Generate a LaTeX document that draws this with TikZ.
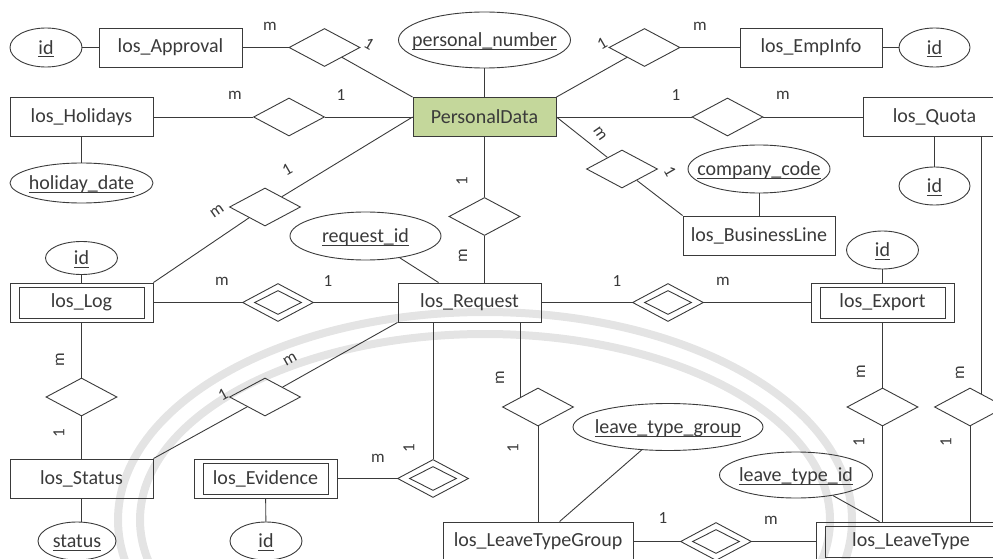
\documentclass[tikz,border=0pt]{standalone}
\usepackage{fontspec}
\setmainfont{Carlito}
\usetikzlibrary{shapes.geometric,calc}
\definecolor{ink}{HTML}{3A3A3A}
\definecolor{pdgreen}{HTML}{C4D79B}
\definecolor{wmgray}{HTML}{E4E4E4}
% key attribute: underline drawn just below the baseline
\newcommand\ulx[1]{\setbox0\hbox{#1}\rlap{\rule[-2.6pt]{\wd0}{0.7pt}}\box0}
% attribute text in a zero-size box so the ellipse keeps its given size
\newcommand\attrtext[1]{\makebox[0pt]{\raisebox{-0.34em}[0pt][0pt]{\ulx{#1}}}}
\begin{document}
\begin{tikzpicture}[x=1pt,y=-1pt,
  every node/.style={text=ink},
  ent/.style={draw=ink, line width=0.9pt, rectangle, minimum width=143pt,
    minimum height=39pt, inner sep=0pt, font=\fontsize{20}{22}\selectfont},
  wk/.style={ent, path picture={\draw[ink, line width=0.9pt]
    ([xshift=9pt,yshift=-4pt]path picture bounding box.north west) rectangle
    ([xshift=-9pt,yshift=4pt]path picture bounding box.south east);}},
  attr/.style={draw=ink, line width=0.9pt, ellipse, inner sep=0pt,
    minimum width=72pt, minimum height=39pt, font=\fontsize{20}{22}\selectfont},
  rel/.style={draw=ink, line width=0.9pt, diamond, minimum width=71pt,
    minimum height=38pt, inner sep=0pt},
  ddia/.style={rel, path picture={\draw[ink, line width=0.9pt]
    ([yshift=-7pt]path picture bounding box.north) --
    ([xshift=-12pt]path picture bounding box.east) --
    ([yshift=7pt]path picture bounding box.south) --
    ([xshift=12pt]path picture bounding box.west) -- cycle;}},
  link/.style={draw=ink, line width=0.9pt},
  card/.style={font=\fontsize{17}{19}\selectfont, inner sep=0pt},
  wm/.style={draw=wmgray, line width=8pt}
]
\useasboundingbox (0,0) rectangle (993,559);

% faint background arcs
\begin{scope}
  \clip (0,0) rectangle (993,559);
  \draw[wm] (485,520) ellipse [x radius=367pt, y radius=208pt];
  \draw[wm] (485,520) ellipse [x radius=345pt, y radius=186pt];
\end{scope}

% entities
\node[ent] (appr) at (170.5,47.5) {los\_Approval};
\node[ent, fill=pdgreen] (pd) at (484.5,117) {PersonalData};
\node[ent] (hol) at (81.5,117) {los\_Holidays};
\node[ent, minimum width=142pt] (emp) at (811,47.5) {los\_EmpInfo};
\node[ent] (quota) at (934.5,117) {los\_Quota};
\node[ent, minimum width=152pt] (bl) at (759,235.5) {los\_BusinessLine};
\node[ent] (req) at (469.5,302.5) {los\_Request};
\node[wk] (log) at (81.5,302.5) {los\_Log};
\node[wk] (exp) at (882.5,302.5) {los\_Export};
\node[ent] (stat) at (81.5,478.5) {los\_Status};
\node[wk] (evd) at (265.5,478.5) {los\_Evidence};
\node[ent, minimum width=190pt] (ltg) at (538,541.5) {los\_LeaveTypeGroup};
\node[wk, minimum width=190pt] (lt) at (911,541.5) {los\_LeaveType};

% attributes
\node[attr] (aid) at (46,47.5) {\attrtext{id}};
\node[attr, minimum width=172pt, minimum height=56pt] (apn) at (484.5,40) {\attrtext{personal\_number}};
\node[attr, minimum width=71pt] (aeid) at (934.5,47.5) {\attrtext{id}};
\node[attr, minimum width=143pt, minimum height=40pt] (ahd) at (81.5,183) {\attrtext{holiday\_date}};
\node[attr, minimum width=142pt, minimum height=48pt] (acc) at (759,169) {\attrtext{company\_code}};
\node[attr, minimum width=71pt, minimum height=38pt] (aqid) at (934.5,186) {\attrtext{id}};
\node[attr, minimum height=33pt] (alid) at (81.5,258) {\attrtext{id}};
\node[attr, minimum width=151pt, minimum height=48pt] (arid) at (365.5,236) {\attrtext{request\_id}};
\node[attr, minimum height=38pt] (axid) at (882.5,250) {\attrtext{id}};
\node[attr, minimum width=78pt, minimum height=38pt] (astat) at (77,541) {\attrtext{status}};
\node[attr, minimum height=38pt] (avid) at (266,541) {\attrtext{id}};
\node[attr, minimum width=190pt, minimum height=47pt] (altg) at (668,427) {\attrtext{leave\_type\_group}};
\node[attr, minimum width=153pt, minimum height=46pt] (altid) at (796,475) {\attrtext{leave\_type\_id}};

% relationships
\node[rel] (r1) at (324.5,47.5) {};
\node[rel] (r2) at (289,117) {};
\node[rel] (r3) at (644.5,47.5) {};
\node[rel] (r4) at (727.5,117) {};
\node[rel] (r5) at (622,169) {};
\node[rel] (r6) at (265,207) {};
\node[rel] (r7) at (484.5,216.5) {};
\node[ddia] (r8) at (278,302.5) {};
\node[ddia] (r9) at (668,302.5) {};
\node[rel] (r10) at (81.5,397) {};
\node[rel] (r11) at (265,397) {};
\node[ddia] (r12) at (433,478.5) {};
\node[rel] (r13) at (538,407) {};
\node[rel] (r14) at (882.5,407) {};
\node[rel] (r15) at (970,407) {};
\node[ddia] (r16) at (716,541.5) {};

% attribute links
\draw[link] (aid) -- (appr);
\draw[link] (apn) -- (pd);
\draw[link] (emp) -- (aeid);
\draw[link] (hol) -- (ahd);
\draw[link] (acc) -- (bl);
\draw[link] (quota) -- (aqid);
\draw[link] (alid) -- (log);
\draw[link] (arid) -- ($(req.north west)+(41,0)$);
\draw[link] (axid) -- (exp);
\draw[link] (stat.south) -- (stat.south |- astat.north);
\draw[link] (evd) -- (avid);
\draw[link] (altg) -- ($(ltg.north west)+(117,0)$);
\draw[link] (altid) -- ($(lt.north west)+(64,0)$);

% relationship links
\draw[link] (appr) -- (r1);
\draw[link] (r1) -- (pd.north west);
\draw[link] (pd.north east) -- (r3);
\draw[link] (r3) -- (emp);
\draw[link] (hol) -- (r2);
\draw[link] (r2) -- (pd);
\draw[link] (pd) -- (r4);
\draw[link] (r4) -- (quota);
\draw[link] (pd.east) -- (r5);
\draw[link] (r5) -- (bl.north west);
\draw[link] (pd.west) -- (r6);
\draw[link] (r6) -- (log.north east);
\draw[link] (r7) -- (r7 |- pd.south);
\draw[link] (r7) -- (r7 |- req.north);
\draw[link] (log) -- (r8);
\draw[link] (r8) -- (req);
\draw[link] (req) -- (r9);
\draw[link] (r9) -- (exp);
\draw[link] (log) -- (r10);
\draw[link] (r10) -- (stat);
\draw[link] (stat.north east) -- (r11);
\draw[link] (r11) -- (req.south west);
\draw[link] (evd) -- (r12);
\draw[link] (r12) -- (r12 |- req.south);
\draw[link] (r13.north west) -- (r13.north west |- req.south);
\draw[link] (r13) -- (r13 |- ltg.north);
\draw[link] (r14) -- (r14 |- exp.south);
\draw[link] (r14) -- (r14 |- lt.north);
\coordinate (q15) at ($(r15.north)!0.31!(r15.east)$);
\draw[link] (q15) -- (q15 |- quota.south);
\draw[link] (r15) -- (r15 |- lt.north);
\draw[link] (ltg) -- (r16);
\draw[link] (r16) -- (lt);

% cardinalities
\node[card] (c1) at (270,26) {m};
\node[card, rotate=-30] (c2) at (369,44) {1};
\node[card] (c3) at (235,95) {m};
\node[card] (c4) at (341,95) {1};
\node[card, rotate=30] (c5) at (602,44) {1};
\node[card] (c6) at (700,26) {m};
\node[card] (c7) at (676,95) {1};
\node[card] (c8) at (783,95) {m};
\node[card, rotate=-55] (c9) at (600,134) {m};
\node[card, rotate=-60] (c10) at (670,171) {1};
\node[card, rotate=35] (c11) at (217,211) {m};
\node[card, rotate=30] (c12) at (287,170) {1};
\node[card, rotate=90] (c13) at (462,181) {1};
\node[card, rotate=90] (c14) at (463,256) {m};
\node[card] (c15) at (222,281) {m};
\node[card] (c16) at (328,281) {1};
\node[card] (c17) at (617,281) {1};
\node[card] (c18) at (723,281) {m};
\node[card, rotate=90] (c19) at (60,360) {m};
\node[card, rotate=90] (c20) at (59,433) {1};
\node[card, rotate=29] (c21) at (290,360) {m};
\node[card, rotate=29] (c22) at (223,395) {1};
\node[card] (c23) at (378,458) {m};
\node[card, rotate=90] (c24) at (409,448) {1};
\node[card, rotate=90] (c25) at (500,378) {m};
\node[card, rotate=90] (c26) at (513,448) {1};
\node[card, rotate=90] (c27) at (861,372) {m};
\node[card, rotate=90] (c28) at (859,442) {1};
\node[card, rotate=90] (c29) at (960,373) {m};
\node[card, rotate=90] (c30) at (946,442) {1};
\node[card] (c31) at (663,518) {1};
\node[card] (c32) at (771,520) {m};
\end{tikzpicture}
\end{document}
